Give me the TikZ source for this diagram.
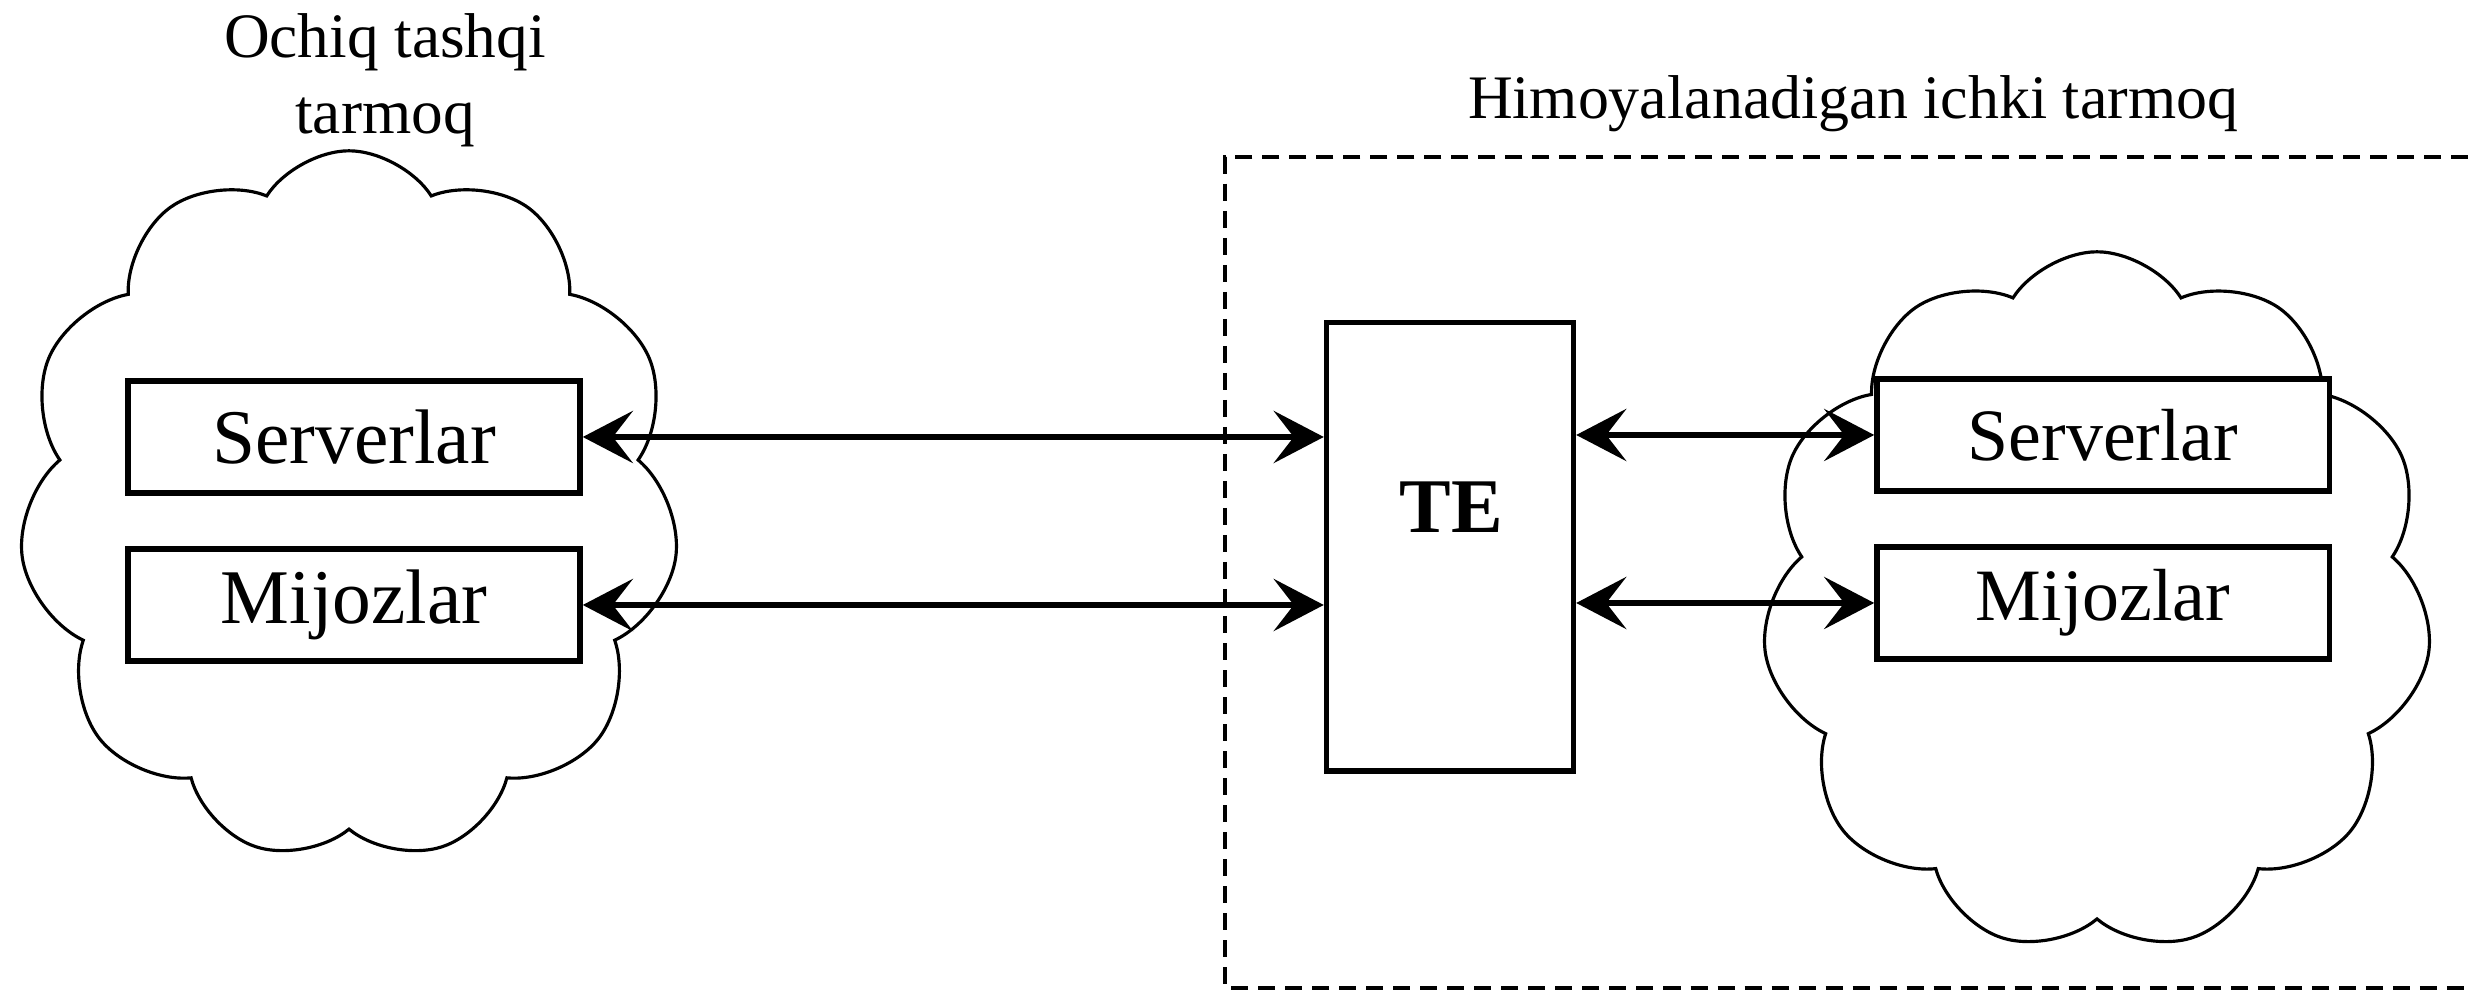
\documentclass[tikz,border=0pt]{standalone}
\usepackage{fontspec}
\setmainfont{Liberation Serif}
\usetikzlibrary{positioning,arrows.meta,shapes.symbols}

\begin{document}
\begin{tikzpicture}[
  x=0.01cm, y=-0.01cm,
  netbox/.style={draw, line width=1.5pt, fill=white, minimum width=4.52cm, minimum height=1.12cm, inner sep=0pt, font=\fontsize{22}{26}\selectfont},
  netcloud/.style={cloud, draw, line width=0.9pt, cloud puffs=11, cloud puff arc=115, aspect=1, inner sep=0pt},
  biarr/.style={{Stealth[length=5mm, width=5.2mm, inset=2mm]}-{Stealth[length=5mm, width=5.2mm, inset=2mm]}, line width=1.9pt},
  caption/.style={font=\fontsize{18}{21.6}\selectfont, align=center},
]
\useasboundingbox (0,0) rectangle (2468,995);
% titles
\node[caption] (exttitle) at (385,80) {Ochiq tashqi\\tarmoq};
\node[caption, font=\fontsize{17.6}{21}\selectfont] (inttitle) at (1853,104) {Himoyalanadigan ichki tarmoq};
% protected zone
\draw[line width=1.2pt, dash pattern=on 0.17cm off 0.1cm] (2468,157) -| (1225,988) -- (2468,988);
% clouds
\node[netcloud, minimum width=6.6cm, minimum height=7.1cm] (extcloud) at (349,506) {};
\node[netcloud, minimum width=6.7cm, minimum height=7.0cm] (intcloud) at (2097,602) {};
% boxes
\node[netbox] (extsrv) at (354,437) {Serverlar};
\node[netbox] (extcli) at (354,605) {Mijozlar};
\node[netbox, font=\fontsize{21}{25}\selectfont] (intsrv) at (2103,435) {Serverlar};
\node[netbox, font=\fontsize{21}{25}\selectfont] (intcli) at (2103,603) {Mijozlar};
% firewall
\node[draw, line width=1.5pt, minimum width=2.47cm, minimum height=4.48cm] (te) at (1450,547) {};
\node[font=\fontsize{22}{26}\selectfont\bfseries] (telabel) at (1451,507) {TE};
% arrows
\draw[biarr] (extsrv.east) -- (te.west |- extsrv.east);
\draw[biarr] (extcli.east) -- (te.west |- extcli.east);
\draw[biarr] (te.east |- intsrv.west) -- (intsrv.west);
\draw[biarr] (te.east |- intcli.west) -- (intcli.west);
\end{tikzpicture}
\end{document}
